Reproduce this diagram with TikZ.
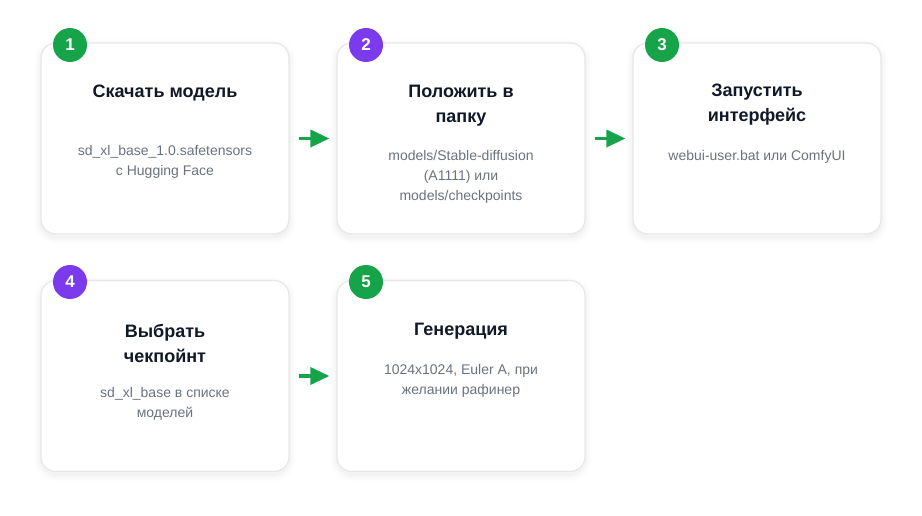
\documentclass[tikz,border=0pt]{standalone}
\usepackage{fontspec}
\setmainfont{Liberation Sans}
\usetikzlibrary{arrows.meta}
\definecolor{stgreen}{HTML}{16A34A}
\definecolor{stpurple}{HTML}{7C3AED}
\definecolor{sttitle}{HTML}{111827}
\definecolor{stdesc}{HTML}{6B7280}
\definecolor{stborder}{HTML}{E5E7EB}
\newcommand{\cardshadow}[2]{%
  \foreach \w/\o in {14/0.008,10/0.01,6/0.012,3/0.015}{%
    \draw[black, draw opacity=\o, line width=\w pt, rounded corners=16pt]
      (#1-124,#2-95.5+3) rectangle (#1+124,#2+95.5+3);}}
\begin{document}
\begin{tikzpicture}[x=1pt,y=-1pt,
  card/.style={draw=stborder, line width=1.2pt, fill=white, rounded corners=15pt,
    minimum width=248pt, minimum height=191pt, inner sep=0pt},
  badge/.style={circle, minimum size=34pt, inner sep=0pt, text=white,
    font=\bfseries\fontsize{17}{18}\selectfont},
  ttl/.style={align=center, text=sttitle, inner sep=0pt,
    font=\bfseries\fontsize{18}{25}\selectfont},
  desc/.style={align=center, text=stdesc, inner sep=0pt,
    font=\fontsize{14}{20}\selectfont},
  flow/.style={draw=stgreen, line width=3.5pt,
    -{Triangle[length=19pt,width=17pt]}, shorten <=9pt, shorten >=7pt}]
\fill[white] (0,0) rectangle (922,516);
\useasboundingbox (0,0) rectangle (922,516);
% shadows
\cardshadow{165}{138.5}
\cardshadow{461}{138.5}
\cardshadow{757}{138.5}
\cardshadow{165}{376}
\cardshadow{461}{376}
% cards
\node[card] (c1) at (165,138.5) {};
\node[card] (c2) at (461,138.5) {};
\node[card] (c3) at (757,138.5) {};
\node[card] (c4) at (165,376) {};
\node[card] (c5) at (461,376) {};
% badges
\node[badge, fill=stgreen] (b1) at (70,45) {1};
\node[badge, fill=stpurple] (b2) at (366,45) {2};
\node[badge, fill=stgreen] (b3) at (662,45) {3};
\node[badge, fill=stpurple] (b4) at (70,282) {4};
\node[badge, fill=stgreen] (b5) at (366,282) {5};
% titles
\node[ttl] (t1) at (165,93) {Скачать модель};
\node[ttl] (t2) at (461,105.5) {Положить в\\папку};
\node[ttl] (t3) at (757,105) {Запустить\\интерфейс};
\node[ttl] (t4) at (165,343) {Выбрать\\чекпойнт};
\node[ttl] (t5) at (461,331.5) {Генерация};
% descriptions
\node[desc] (d1) at (165,162) {sd\_xl\_base\_1.0.safetensors\\с Hugging Face};
\node[desc] (d2) at (461,177) {models/Stable-diffusion\\(A1111) или\\models/checkpoints};
\node[desc] (d3) at (757,157) {webui-user.bat или ComfyUI};
\node[desc] (d4) at (165,404) {sd\_xl\_base в списке\\моделей};
\node[desc] (d5) at (461,381) {1024x1024, Euler A, при\\желании рафинер};
% arrows
\draw[flow] (c1.east) -- (c2.west);
\draw[flow] (c2.east) -- (c3.west);
\draw[flow] (c4.east) -- (c5.west);
\end{tikzpicture}
\end{document}
